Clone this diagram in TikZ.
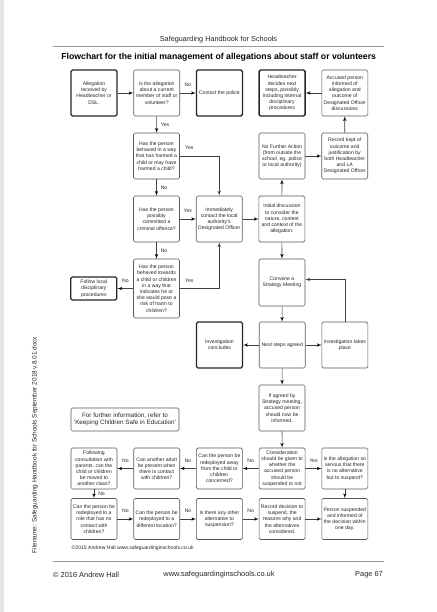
\documentclass[tikz,border=0pt]{standalone}
\usepackage{fontspec}
\setmainfont{Liberation Sans}
\usetikzlibrary{positioning}
\usetikzlibrary{arrows}
\tikzset{edge/.style = {->,> = latex', draw=black!75, line width=0.6pt}}
\tikzset{box/.style = {rectangle, draw=black!65, line width=0.6pt, rounded corners=1.5pt, align=center,
    minimum width=46pt, minimum height=46pt, inner sep=0.5pt, text=black!85, font=\fontsize{5.1}{6.2}\selectfont}}
\tikzset{heavy box/.style = {box, draw=black!85, line width=1.3pt}}
\tikzset{short box/.style = {box, minimum height=41pt}}
\tikzset{lbl/.style = {font=\fontsize{5.1}{6}\selectfont, text=black!85, inner sep=1pt}}
\tikzset{plain/.style = {inner sep=0pt, text=black!85}}

\begin{document}
\begin{tikzpicture}[x=1pt, y=1pt, node distance=62.7pt]
            % page
            \useasboundingbox (0,0) rectangle (436,-612);
            \fill[white] (0,0) rectangle (436,-612);
            \fill[black!10] (0,0) rectangle (4,-612);

            % header and title
            \node[plain, font=\fontsize{7.3}{8}\selectfont] (header) at (218.5,-40) {Safeguarding Handbook for Schools};
            \draw[black!40, line width=0.9pt] (52.5,-46.7) -- (384,-46.7);
            \node[plain, text=black, font=\bfseries\fontsize{8.7}{10}\selectfont] (title) at (218.7,-57.3)
                {Flowchart for the initial management of allegations about staff or volunteers};

            % first row
            \node[heavy box] (alleg) at (94,-93) {Allegation\\received by\\Headteacher or\\DSL.};
            \node[box] (isalleg) [right of=alleg] {Is the allegation\\about a current\\member of staff or\\volunteer?};
            \node[heavy box] (police) [right of=isalleg] {Contact the police};
            \node[heavy box] (headdecide) [right of=police] {Headteacher\\decides next\\steps, possibly\\including internal\\disciplinary\\procedures};
            \node[box] (informed) [right of=headdecide] {Accused person\\informed of\\allegation and\\outcome of\\Designated Officer\\discussions};

            \node[box] (harmed) at (156.5,-156) {Has the person\\behaved in a way\\that has harmed a\\child or may have\\harmed a child?};
            \node[box] (nfa) at (282,-156) {No Further Action\\(from outside the\\school, eg. police\\or local authority)};
            \node[box] (recordkept) [right of=nfa] {Record kept of\\outcome and\\justification by\\both Headteacher\\and LA\\Designated Officer};

            \node[box] (offence) at (156.5,-219) {Has the person\\possibly\\committed a\\criminal offence?};
            \node[box] (contact) [right of=offence] {Immediately\\contact the local\\authority's\\Designated Officer};
            \node[box] (initial) [right of=contact] {Initial discussion\\to consider the\\nature, content\\and context of the\\allegation.};

            \node[box, minimum height=59pt] (behaved) at (156.5,-288.5) {Has the person\\behaved towards\\a child or children\\in a way that\\indicates he or\\she would pose a\\risk of harm to\\children?};
            \node[heavy box, minimum height=23pt] (follow) [left of=behaved] {Follow local\\disciplinary\\procedures};
            \node[box, minimum height=47pt] (convene) at (282,-282.5) {Convene a\\Strategy Meeting};

            \node[heavy box] (concludes) at (219.5,-345) {Investigation\\concludes};
            \node[box] (nextsteps) [right of=concludes] {Next steps agreed};
            \node[box] (takesplace) [right of=nextsteps] {Investigation takes\\place};

            \node[box] (ifagreed) at (282,-408) {If agreed by\\Strategy meeting,\\accused person\\should now be\\informed.};
            \node[box, minimum width=108pt, minimum height=23pt, font=\fontsize{6.3}{7.7}\selectfont] (further) at (125,-419.5)
                {For further information, refer to\\`Keeping Children Safe in Education'};

            % suspension rows
            \node[short box] (consult) at (94,-468.5) {Following\\consultation with\\parents, can the\\child or children\\be moved to\\another class?};
            \node[short box] (adult) [right of=consult] {Can another adult\\be present when\\there is contact\\with children?};
            \node[short box] (away) [right of=adult] {Can the person be\\redeployed away\\from the child or\\children\\concerned?};
            \node[short box] (consider) [right of=away] {Consideration\\should be given to\\whether the\\accused person\\should be\\suspended or not};
            \node[short box] (serious) [right of=consider] {Is the allegation so\\serious that there\\is no alternative\\but to suspend?};

            \node[short box] (role) at (94,-519) {Can the person be\\redeployed to a\\role that has no\\contact with\\children?};
            \node[short box] (location) [right of=role] {Can the person be\\redeployed to a\\different location?};
            \node[short box] (alternative) [right of=location] {Is there any other\\alternative to\\suspension?};
            \node[short box] (recorddec) [right of=alternative] {Record decision to\\suspend, the\\reasons why and\\the alternatives\\considered.};
            \node[short box] (suspended) [right of=recorddec] {Person suspended\\and informed of\\the decision within\\one day.};

            \path[edge] (alleg) edge (isalleg)
                (contact) edge (initial)
                (initial) edge (nfa)
                (nfa) edge (recordkept)
                (recordkept) edge (informed)
                (informed) edge (headdecide)
                (initial) edge (convene)
                (convene) edge (nextsteps)
                (nextsteps) edge (concludes)
                (nextsteps) edge (takesplace)
                (nextsteps) edge (ifagreed)
                (ifagreed) edge (consider)
                (serious) edge (suspended)
                (recorddec) edge (suspended);
            \path[edge, every node/.style={lbl}]
                (isalleg) edge node [above=5pt] {No} (police)
                (isalleg) edge node [right=3pt] {Yes} (harmed)
                (harmed) edge node [right=3pt] {No} (offence)
                (offence) edge node [above=5pt] {Yes} (contact)
                (offence) edge node [right=3pt] {No} (behaved)
                (behaved) edge node [above=5pt] {No} (follow)
                (consider) edge node [above=5pt] {No} (away)
                (consider) edge node [above=5pt] {Yes} (serious)
                (away) edge node [above=5pt] {No} (adult)
                (adult) edge node [above=5pt] {No} (consult)
                (consult) edge node [right=3pt] {No} (role)
                (role) edge node [above=5pt] {No} (location)
                (location) edge node [above=5pt] {No} (alternative)
                (alternative) edge node [above=5pt] {No} (recorddec)
                ;
            \draw[edge] (harmed) -| node[lbl, pos=0.12, above=5pt] {Yes} (contact);
            \draw[edge] (behaved) -| node[lbl, pos=0.12, above=5pt] {Yes} (contact);
            \draw[edge] (takesplace) |- ([yshift=3pt]convene.east);

            % credit, footer and margin
            \node[plain, anchor=west, font=\fontsize{5.1}{6}\selectfont] (credit) at (71.5,-548) {©2015 Andrew Hall www.safeguardinginschools.co.uk};
            \draw[black!40, line width=0.9pt] (52.5,-561.7) -- (384,-561.7);
            \node[plain, anchor=west, font=\fontsize{7.4}{8}\selectfont] (copyright) at (53,-575) {© 2016 Andrew Hall};
            \node[plain, font=\fontsize{7.4}{8}\selectfont] (website) at (219,-575) {www.safeguardinginschools.co.uk};
            \node[plain, anchor=east, font=\fontsize{7.4}{8}\selectfont] (pagenum) at (383,-575) {Page 67};
            \node[plain, rotate=90, font=\fontsize{6.4}{7}\selectfont] (filename) at (35,-445)
                {Filename: Safeguarding Handbook for Schools September 2018 v.8.01.docx};
        \end{tikzpicture}
\end{document}
